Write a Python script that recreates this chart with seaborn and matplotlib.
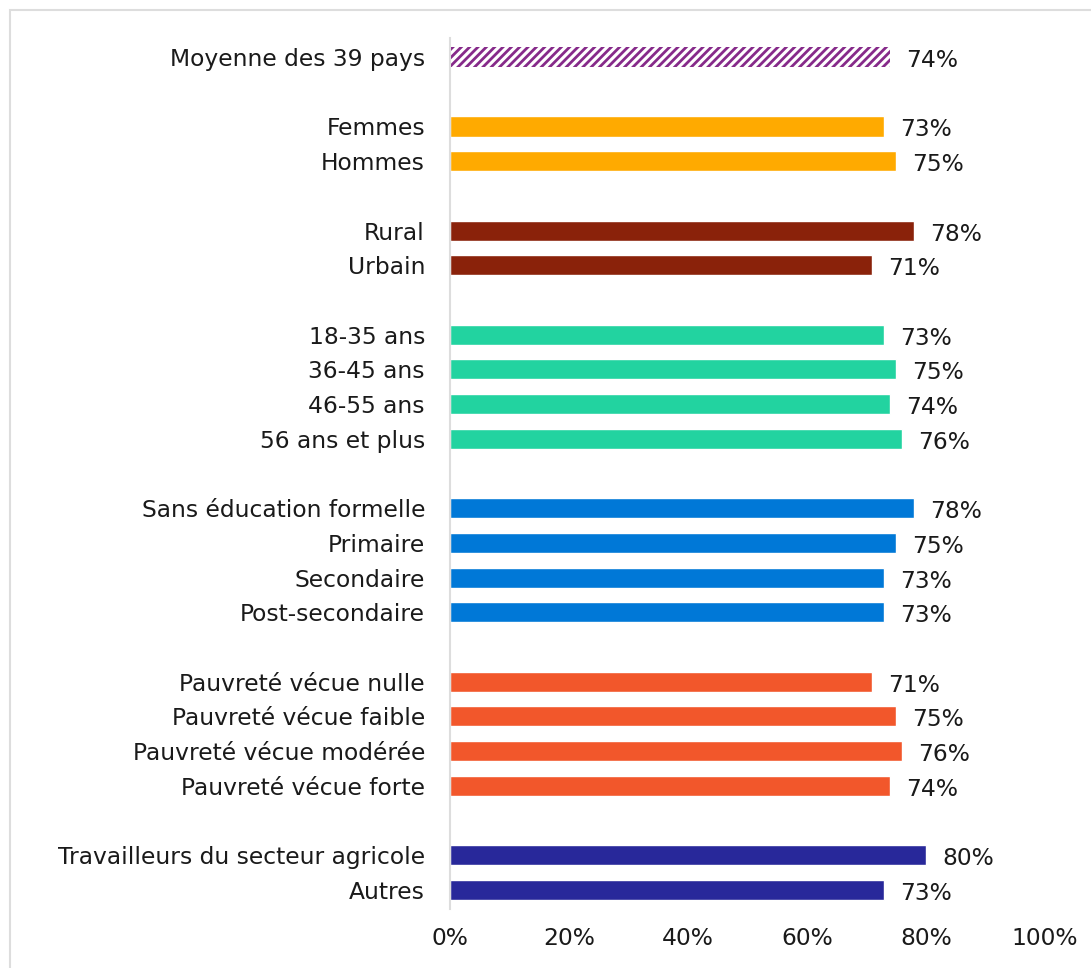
import matplotlib
matplotlib.use("Agg")
import matplotlib.pyplot as plt
import matplotlib.patches as mpatches
import seaborn as sns
import pandas as pd

sns.set_theme(style="white")
plt.rcParams["font.family"] = ["DejaVu Sans"]
plt.rcParams["hatch.linewidth"] = 2.0

# Groups of categories, values (%) and colours
groups = [
    (["Moyenne des 39 pays"], [74], "#862A8A"),
    (["Femmes", "Hommes"], [73, 75], "#FFAA00"),
    (["Rural", "Urbain"], [78, 71], "#8A220A"),
    (["18-35 ans", "36-45 ans", "46-55 ans", "56 ans et plus"], [73, 75, 74, 76], "#22D3A0"),
    (["Sans éducation formelle", "Primaire", "Secondaire", "Post-secondaire"], [78, 75, 73, 73], "#0078D7"),
    (["Pauvreté vécue nulle", "Pauvreté vécue faible", "Pauvreté vécue modérée",
      "Pauvreté vécue forte"], [71, 75, 76, 74], "#F2572B"),
    (["Travailleurs du secteur agricole", "Autres"], [80, 73], "#28289A"),
]
xticks = [0, 20, 40, 60, 80, 100]

# Build the category order with blank spacer rows between groups
order, cats, vals, cols = [], [], [], {}
for gi, (names, values, color) in enumerate(groups):
    if gi > 0:
        order.append(" " * gi)
    for n, v in zip(names, values):
        order.append(n)
        cats.append(n)
        vals.append(v)
        cols[n] = color

df = pd.DataFrame({"cat": cats, "val": vals})

fig = plt.figure(figsize=(10.91, 9.68), dpi=100)
ax = fig.add_axes([450 / 1091, 1 - 909 / 968, (1045 - 450) / 1091, (909 - 38) / 968])

sns.barplot(data=df, y="cat", x="val", order=order, hue="cat", palette=cols,
            width=0.58, legend=False, ax=ax, saturation=1)

# Hatched average bar
for patch in ax.patches:
    if abs(patch.get_y() + patch.get_height() / 2) < 1e-6:
        patch.set_facecolor("white")
        patch.set_edgecolor("#862A8A")
        patch.set_hatch("////")
        patch.set_linewidth(0)

FS = 16.8
TXT = "#1a1a1a"

# Value labels
for c, v in zip(cats, vals):
    y = order.index(c)
    ax.text(v + 2.7, y + 0.1, f"{v}%", va="center", ha="left", fontsize=FS, color=TXT)

ax.set_xlim(0, 100)
ax.set_ylim(len(order) - 0.45, -0.55)
ax.set_xticks(xticks)
ax.set_xticklabels([f"{t}%" for t in xticks], fontsize=FS, color=TXT)
ax.tick_params(axis="y", labelsize=FS, colors=TXT, length=0, pad=18)
ax.tick_params(axis="x", length=0, pad=13)
ax.set_xlabel("")
ax.set_ylabel("")
for s in ["top", "right", "bottom"]:
    ax.spines[s].set_visible(False)
ax.spines["left"].set_color("#DDDDDD")
ax.spines["left"].set_linewidth(1.5)

# Light frame around the figure
fig.patches.append(mpatches.Rectangle((10 / 1091, -0.05), 1.1, 1 - 10 / 968 + 0.05,
                                      transform=fig.transFigure, fill=False,
                                      edgecolor="#DDDDDD", linewidth=1.5))

fig.savefig("out.png", dpi=100)
